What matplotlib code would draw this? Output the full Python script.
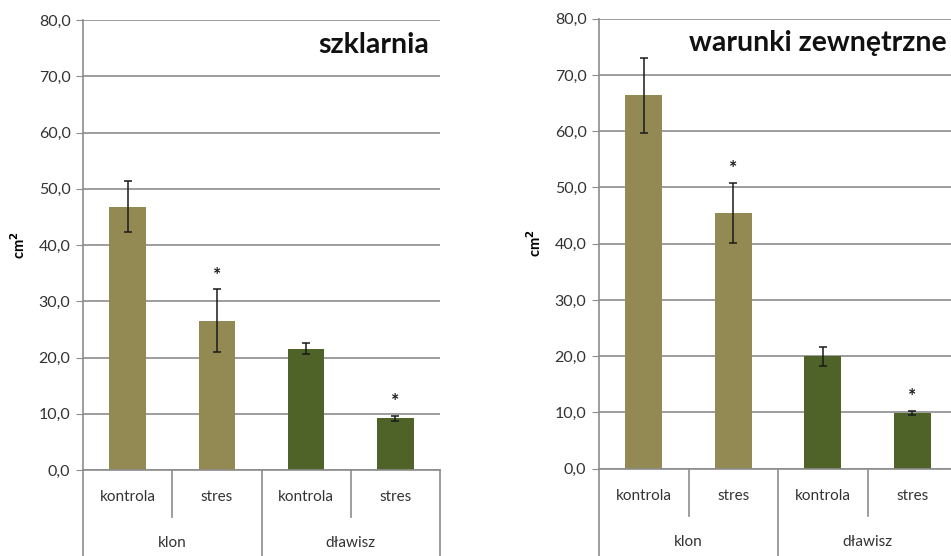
import matplotlib
matplotlib.use("Agg")
import matplotlib.pyplot as plt
from matplotlib.ticker import FuncFormatter

plt.rcParams['font.family'] = ['Lato', 'DejaVu Sans']

categories = ["kontrola", "stres", "kontrola", "stres"]
groups = ["klon", "dławisz"]
bar_colors = ["#938953", "#938953", "#4F6228", "#4F6228"]

titles = ["szklarnia", "warunki zewnętrzne"]
values_szklarnia = [46.8, 26.5, 21.6, 9.2]
errors_szklarnia = [4.5, 5.6, 0.9, 0.4]
values_zewn = [66.4, 45.5, 20.0, 9.9]
errors_zewn = [6.7, 5.35, 1.7, 0.35]
stars_szklarnia = [False, True, False, True]
stars_zewn = [False, True, False, True]
yticks = [0, 10, 20, 30, 40, 50, 60, 70, 80]

W, H = 951, 556
fig = plt.figure(figsize=(W / 100, H / 100), dpi=100)

GRID = "#8c8c8c"
TXT = "#333333"


def px_axes(left, top, right, bottom):
    return fig.add_axes([left / W, 1 - bottom / H, (right - left) / W, (bottom - top) / H])


def panel(ax, vals, errs, stars, title, title_x):
    x = list(range(len(categories)))
    ax.set_xlim(-0.5, 3.5)
    ax.set_ylim(0, 80)
    ax.set_yticks(yticks)
    ax.yaxis.set_major_formatter(FuncFormatter(lambda v, p: f"{v:.1f}".replace(".", ",")))
    ax.tick_params(axis="y", length=5, color=GRID, labelsize=11.5, labelcolor=TXT, pad=4)
    ax.set_xticks([])
    for s in ["top", "right"]:
        ax.spines[s].set_visible(False)
    for s in ["left", "bottom"]:
        ax.spines[s].set_color(GRID)
        ax.spines[s].set_linewidth(1.2)
    ax.grid(axis="y", color=GRID, linewidth=1.2)
    ax.set_axisbelow(True)
    ax.bar(x, vals, width=0.41, color=bar_colors, zorder=2)
    ax.errorbar(x, vals, yerr=errs, fmt="none", ecolor="#1a1a1a", elinewidth=1.1,
                capsize=3, capthick=1.1, zorder=3)
    for xi, v, e, s in zip(x, vals, errs, stars):
        if s:
            ax.annotate("*", (xi, v + e), xytext=(0, 4), textcoords="offset points",
                        ha="center", va="bottom", fontsize=14, fontweight="bold", color="#1a1a1a")
    ax.set_ylabel("cm$^{\\mathbf{2}}$", fontsize=10.5, fontweight="bold", labelpad=8)
    ax.text(title_x, 0.945, title, transform=ax.transAxes, ha="right", va="center",
            fontsize=20.5, fontweight="bold", color="#111111")
    # category axis below
    tr = ax.get_xaxis_transform()
    for xb in [-0.5, 1.5, 3.5]:
        ax.plot([xb, xb], [0, -0.3], transform=tr, color=GRID, lw=1.2, clip_on=False)
    for xb in [0.5, 2.5]:
        ax.plot([xb, xb], [0, -0.104], transform=tr, color=GRID, lw=1.2, clip_on=False)
    for xi, c in zip(x, categories):
        ax.text(xi, -0.06, c, transform=tr, ha="center", va="center", fontsize=11, color=TXT)
    for gi, g in enumerate(groups):
        ax.text(0.5 + 2 * gi, -0.162, g, transform=tr, ha="center", va="center",
                fontsize=11, color=TXT)


ax1 = px_axes(83, 20, 440, 470)
panel(ax1, values_szklarnia, errors_szklarnia, stars_szklarnia, titles[0], 0.97)

ax2 = px_axes(599, 18.7, 957, 468.7)
panel(ax2, values_zewn, errors_zewn, stars_zewn, titles[1], 0.97)

fig.savefig("out.png", dpi=100)
